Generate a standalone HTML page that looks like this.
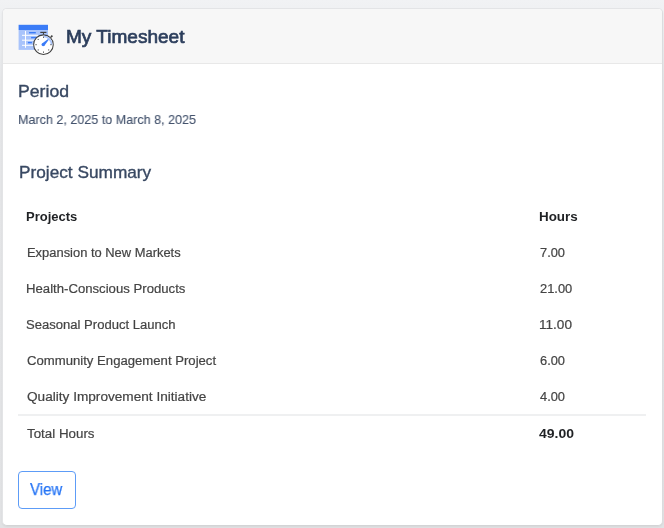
<!DOCTYPE html>
<html>
<head>
<meta charset="utf-8">
<style>
html,body{margin:0;padding:0;}
body{width:664px;height:528px;overflow:hidden;background:linear-gradient(to bottom,#f1f2f4 0px,#eceef0 30px,#e5e6e8 80px,#e1e2e4 528px);font-family:"Liberation Sans",sans-serif;position:relative;}
.card{position:absolute;left:2px;top:8px;width:659px;height:516px;border:1px solid #e3e4e6;border-right-color:#dbdcde;border-bottom-color:#d3d4d6;box-shadow:0 1px 2px rgba(0,0,0,0.05);border-radius:5px;background:#fff;overflow:hidden;}
.hdr{position:absolute;left:0;top:0;width:100%;height:54px;background:#f7f7f7;border-bottom:1px solid #e8e8e8;}
.t{position:absolute;white-space:nowrap;line-height:1;transform-origin:0 0;will-change:transform;}
.line{position:absolute;left:18px;top:414px;width:628px;height:2px;background:#eff0f1;}
.btn{position:absolute;left:18px;top:471px;width:56px;height:36px;border:1px solid #5d9cf7;border-radius:4px;}
svg.icon{position:absolute;left:16px;top:20px;}
</style>
</head>
<body>
<div class="card">
  <div class="hdr"></div>
</div>
<div class="line"></div>
<div class="btn"></div>
<svg class="icon" width="40" height="40" viewBox="16 20 40 40">
  <rect x="18.6" y="24.8" width="29.4" height="5.2" fill="#3b7cf7"/>
  <rect x="18.6" y="30" width="29.4" height="19.9" fill="#a9c4fb"/>
  <rect x="22" y="34.8" width="16" height="1" fill="#fff"/>
  <rect x="22" y="39.7" width="13" height="1" fill="#fff"/>
  <rect x="22" y="44.8" width="12" height="1" fill="#fff"/>
  <rect x="25" y="31" width="1" height="16.8" fill="#fff"/>
  <rect x="29.1" y="32" width="6.7" height="1.4" fill="#3b7cf7"/>
  <rect x="31.1" y="36.9" width="5" height="1.4" fill="#3b7cf7"/>
  <rect x="27.9" y="41.9" width="4" height="1.4" fill="#3b7cf7"/>
  <circle cx="43.45" cy="44.65" r="9.8" fill="#fff" stroke="#404040" stroke-width="1.05"/>
  <path d="M43.45 36.45 A8.2 8.2 0 0 1 51.65 44.65" fill="none" stroke="#a9c4fb" stroke-width="1.8"/>
  <rect x="40.3" y="31.8" width="6.1" height="1.2" fill="#404040"/>
  <rect x="42.95" y="32.8" width="1" height="1.8" fill="#404040"/>
  <path d="M50.9 37.1 L52.4 35.6" stroke="#404040" stroke-width="1.6"/>
  <g fill="#555">
    <rect x="43.0" y="36.6" width="1" height="1.3"/>
    <rect x="43.0" y="51.5" width="1" height="1.3"/>
    <rect x="35.4" y="44.2" width="1.3" height="1"/>
    <rect x="50.3" y="44.2" width="1.3" height="1"/>
    <circle cx="38.2" cy="39.4" r="0.6"/>
    <circle cx="38.2" cy="49.9" r="0.6"/>
    <circle cx="48.7" cy="49.9" r="0.6"/>
  </g>
  <path d="M44.34 45.72 L42.06 43.48 L48.04 38.95 L48.76 39.65 Z" fill="#3b7cf7"/>
  <circle cx="43.2" cy="44.6" r="1.65" fill="#3b7cf7"/>
</svg>

<div class="t" id="title" style="left:66.10px;top:26.82px;font-size:19px;font-weight:normal;color:#2c3e5c;-webkit-text-stroke:0.7px #2c3e5c;transform:scaleX(1.0017)">My Timesheet</div>
<div class="t" id="period" style="left:18.03px;top:83.31px;font-size:17px;font-weight:normal;color:#384862;-webkit-text-stroke:0.35px #384862;transform:scaleX(1.0391)">Period</div>
<div class="t" id="date" style="left:18.47px;top:112.67px;font-size:13.5px;font-weight:normal;color:#44536d;-webkit-text-stroke:0.12px #44536d;transform:scaleX(0.9307)">March 2, 2025 to March 8, 2025</div>
<div class="t" id="psum" style="left:18.73px;top:164.31px;font-size:17px;font-weight:normal;color:#384862;-webkit-text-stroke:0.35px #384862;transform:scaleX(1.0141)">Project Summary</div>
<div class="t" id="projects" style="left:26.10px;top:209.60px;font-size:13px;font-weight:bold;color:#1f2124;transform:scaleX(1.0000)">Projects</div>
<div class="t" id="hours" style="left:538.64px;top:210.00px;font-size:13px;font-weight:bold;color:#1f2124;transform:scaleX(1.0314)">Hours</div>
<div class="t" id="r1" style="left:26.65px;top:247.12px;font-size:12.5px;font-weight:normal;color:#444444;-webkit-text-stroke:0.2px #444444;transform:scaleX(1.0336)">Expansion to New Markets</div>
<div class="t" id="r1h" style="left:539.68px;top:247.32px;font-size:12.5px;font-weight:normal;color:#444444;-webkit-text-stroke:0.2px #444444;transform:scaleX(1.0261)">7.00</div>
<div class="t" id="r2" style="left:26.42px;top:283.22px;font-size:12.5px;font-weight:normal;color:#444444;-webkit-text-stroke:0.2px #444444;transform:scaleX(1.0523)">Health-Conscious Products</div>
<div class="t" id="r2h" style="left:540.09px;top:283.32px;font-size:12.5px;font-weight:normal;color:#444444;-webkit-text-stroke:0.2px #444444;transform:scaleX(1.0300)">21.00</div>
<div class="t" id="r3" style="left:25.91px;top:319.12px;font-size:12.5px;font-weight:normal;color:#444444;-webkit-text-stroke:0.2px #444444;transform:scaleX(1.0447)">Seasonal Product Launch</div>
<div class="t" id="r3h" style="left:538.95px;top:319.22px;font-size:12.5px;font-weight:normal;color:#444444;-webkit-text-stroke:0.2px #444444;transform:scaleX(1.0857)">11.00</div>
<div class="t" id="r4" style="left:26.95px;top:355.22px;font-size:12.5px;font-weight:normal;color:#444444;-webkit-text-stroke:0.2px #444444;transform:scaleX(1.0508)">Community Engagement Project</div>
<div class="t" id="r4h" style="left:539.68px;top:355.32px;font-size:12.5px;font-weight:normal;color:#444444;-webkit-text-stroke:0.2px #444444;transform:scaleX(1.0261)">6.00</div>
<div class="t" id="r5" style="left:26.91px;top:391.22px;font-size:12.5px;font-weight:normal;color:#444444;-webkit-text-stroke:0.2px #444444;transform:scaleX(1.0893)">Quality Improvement Initiative</div>
<div class="t" id="r5h" style="left:539.68px;top:391.32px;font-size:12.5px;font-weight:normal;color:#444444;-webkit-text-stroke:0.2px #444444;transform:scaleX(1.0261)">4.00</div>
<div class="t" id="tot" style="left:27.29px;top:428.22px;font-size:12.5px;font-weight:normal;color:#444444;-webkit-text-stroke:0.2px #444444;transform:scaleX(1.0677)">Total Hours</div>
<div class="t" id="toth" style="left:539.46px;top:426.90px;font-size:13px;font-weight:bold;color:#1f2124;transform:scaleX(1.0742)">49.00</div>
<div class="t" id="view" style="left:30.24px;top:482.26px;font-size:16px;font-weight:normal;color:#2574f5;-webkit-text-stroke:0.25px #2574f5;transform:scaleX(0.9385)">View</div>
</body>
</html>
